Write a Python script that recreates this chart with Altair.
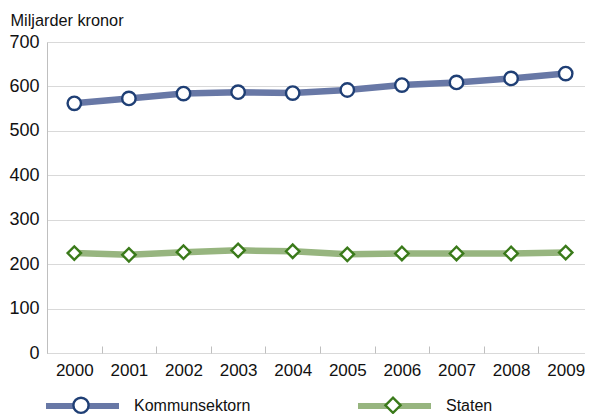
import altair as alt
import pandas as pd

years = ["2000", "2001", "2002", "2003", "2004", "2005", "2006", "2007", "2008", "2009"]
kommunsektorn = [562, 573, 584, 587, 585, 592, 603, 609, 618, 629]
staten = [225, 221, 227, 231, 229, 222, 224, 224, 224, 226]
series_names = ["Kommunsektorn", "Staten"]
y_ticks = [0, 100, 200, 300, 400, 500, 600, 700]

line_colors = ["#6878a6", "#97b57f"]
marker_colors = ["#1f3f75", "#3a7a1a"]
shapes = ["circle", "diamond"]

rows = []
for y, v in zip(years, kommunsektorn):
    rows.append({"year": y, "value": v, "series": series_names[0]})
for y, v in zip(years, staten):
    rows.append({"year": y, "value": v, "series": series_names[1]})
df = pd.DataFrame(rows)

FONT = "Liberation Sans, Arial, sans-serif"
TXT = "#111111"

x_enc = alt.X(
    "year:O",
    title=None,
    scale=alt.Scale(type="band", paddingInner=0, paddingOuter=0, range=[0, 546]),
    axis=alt.Axis(
        domain=False, ticks=True, tickBand="extent", tickSize=7, offset=-7,
        tickColor="#bfbfbf", labelPadding=9, labelAngle=0,
        labelFontSize=17, labelFont=FONT, labelColor=TXT, grid=False,
    ),
)
y_enc = alt.Y(
    "value:Q",
    scale=alt.Scale(domain=[0, 700], nice=False),
    axis=alt.Axis(
        values=y_ticks, domain=True, domainColor="#bfbfbf", ticks=False,
        grid=True, gridColor="#d9d9d9", labelPadding=8,
        labelFontSize=18, labelFont=FONT, labelColor=TXT,
        title="Miljarder kronor", titleAngle=0, titleX=-37, titleY=-16.3,
        titleAlign="left", titleBaseline="alphabetic", titleFontSize=16.3,
        titleFont=FONT, titleFontWeight="normal", titleColor=TXT,
    ),
)

lines = alt.Chart(df).mark_line(strokeWidth=6.5, strokeCap="round", strokeJoin="round").encode(
    x=x_enc,
    y=y_enc,
    color=alt.Color(
        "series:N",
        scale=alt.Scale(domain=series_names, range=line_colors),
        legend=alt.Legend(
            title=None, orient="none", legendX=-4, legendY=324.3, direction="horizontal",
            symbolType="stroke", symbolSize=5329, symbolStrokeWidth=6,
            labelOffset=12, columnPadding=95, labelFontSize=16, labelFont=FONT,
            labelColor=TXT,
        ),
    ),
)

pt_legend = alt.Legend(
    title=None, orient="none", legendX=25, legendY=354, direction="horizontal",
    symbolSize=230, symbolStrokeWidth=2.4, symbolFillColor="white",
    labelOffset=4, columnPadding=286, labelFontSize=16, labelFont=FONT,
    labelExpr="''",
)

points = alt.Chart(df).transform_calculate(series_pt="datum.series").mark_point(
    filled=True, fill="white", strokeWidth=2.4, size=180, opacity=1
).encode(
    x=x_enc,
    y=y_enc,
    shape=alt.Shape("series_pt:N", scale=alt.Scale(range=shapes), legend=pt_legend),
    stroke=alt.Stroke("series_pt:N", scale=alt.Scale(range=marker_colors), legend=pt_legend),
)

chart = alt.layer(lines, points).properties(
    width=538,
    height=311,
    autosize=alt.AutoSizeParams(type="none"),
    padding={"left": 39, "top": 34, "right": 0, "bottom": 72},
).configure_view(stroke=None).configure(background="white")

chart.save("out.html", embed_options={"renderer": "svg", "actions": False})
